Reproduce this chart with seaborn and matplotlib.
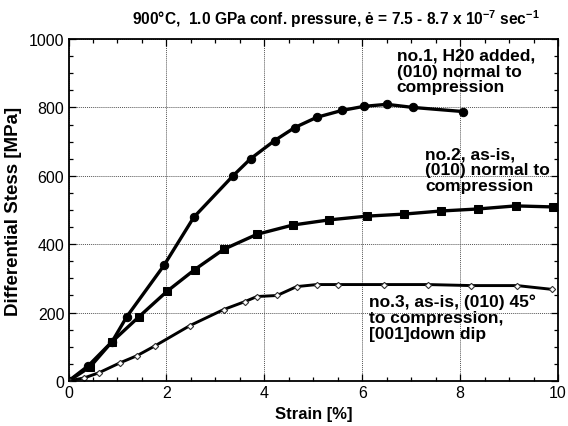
import matplotlib
matplotlib.use("Agg")
import matplotlib.pyplot as plt
import seaborn as sns
from matplotlib.ticker import MultipleLocator

# sample no.1, H2O added, (010) normal to compression
strain_1 = [0.0, 0.40, 0.89, 1.19, 1.95, 2.56, 3.36, 3.72, 4.21, 4.62, 5.07, 5.58, 6.03, 6.50, 7.03, 8.05]
stress_1 = [0, 44, 115, 188, 338, 479, 600, 650, 703, 741, 771, 791, 803, 809, 800, 788]

# sample no.2, as-is, (010) normal to compression
strain_2 = [0.0, 0.44, 0.89, 1.44, 2.01, 2.58, 3.17, 3.85, 4.58, 5.32, 6.09, 6.85, 7.60, 8.36, 9.13, 9.89]
stress_2 = [0, 41, 115, 188, 262, 326, 385, 429, 456, 471, 482, 488, 497, 503, 512, 509]

# sample no.3, as-is, (010) 45 deg to compression
strain_3 = [0.0, 0.32, 0.62, 1.05, 1.40, 1.77, 2.48, 3.17, 3.60, 3.85, 4.26, 4.66, 5.07, 5.50, 6.44, 7.34, 8.23, 9.16, 9.87]
stress_3 = [0, 9, 24, 53, 74, 103, 162, 209, 232, 247, 250, 276, 282, 282, 282, 282, 279, 279, 268]

labels = [
    "no.1, H20 added,\n(010) normal to\ncompression",
    "no.2, as-is,\n(010) normal to\ncompression",
    "no.3, as-is, (010) 45\u00b0\nto compression,\n[001]down dip",
]

sns.set_style("ticks")
plt.rcParams["font.family"] = ["Liberation Sans", "DejaVu Sans"]
plt.rcParams["mathtext.fontset"] = "custom"
plt.rcParams["mathtext.rm"] = "Liberation Sans"
plt.rcParams["mathtext.bf"] = "Liberation Sans:bold"
for key in ["text.color", "axes.labelcolor", "xtick.color", "ytick.color", "axes.edgecolor"]:
    plt.rcParams[key] = "black"

fig = plt.figure(figsize=(5.68, 4.27), dpi=100)
ax = fig.add_axes([0.1206, 0.1054, 0.862, 0.8009])

# curves
sns.lineplot(x=strain_1, y=stress_1, sort=False, ax=ax, color="black", lw=2.4,
             marker="o", markersize=6, markeredgecolor="black", markerfacecolor="black")
sns.lineplot(x=strain_2, y=stress_2, sort=False, ax=ax, color="black", lw=2.4,
             marker="s", markersize=5.5, markeredgecolor="black", markerfacecolor="black")
sns.lineplot(x=strain_3, y=stress_3, sort=False, ax=ax, color="black", lw=2.1,
             marker="D", markersize=3.2, markeredgecolor="#333333", markerfacecolor="white",
             markeredgewidth=0.8)

ax.set_xlim(0, 10)
ax.set_ylim(0, 1000)
ax.xaxis.set_major_locator(MultipleLocator(2))
ax.xaxis.set_minor_locator(MultipleLocator(0.5))
ax.yaxis.set_major_locator(MultipleLocator(200))
ax.yaxis.set_minor_locator(MultipleLocator(50))
ax.tick_params(which="both", direction="in", top=True, right=True, width=0.9)
ax.tick_params(which="major", length=5, labelsize=11.5, pad=3)
ax.tick_params(which="minor", length=3)
ax.grid(which="major", linestyle=(0, (1, 1)), color="#555555", linewidth=0.7)
for s in ax.spines.values():
    s.set_linewidth(1.3)

ax.set_xlabel("Strain [%]", fontsize=12, fontweight="bold", labelpad=4)
ax.set_ylabel("Differential Stess [MPa]", fontsize=13.5, fontweight="bold", labelpad=5)

fig.text(0.592, 0.956,
         "900\u00b0C,  1.0 GPa conf. pressure, \u0117 = 7.5 - 8.7 x 10$^{\\mathbf{-7}}$ sec$^{\\mathbf{-1}}$",
         ha="center", va="center", fontsize=11.2, fontweight="bold")

text_pos = [(6.70, 975), (7.28, 686), (6.13, 257)]
for (tx, ty), lab in zip(text_pos, labels):
    ax.text(tx, ty, lab, ha="left", va="top", fontsize=12.5, fontweight="bold",
            linespacing=1.08)

fig.savefig("out.png", dpi=100)
